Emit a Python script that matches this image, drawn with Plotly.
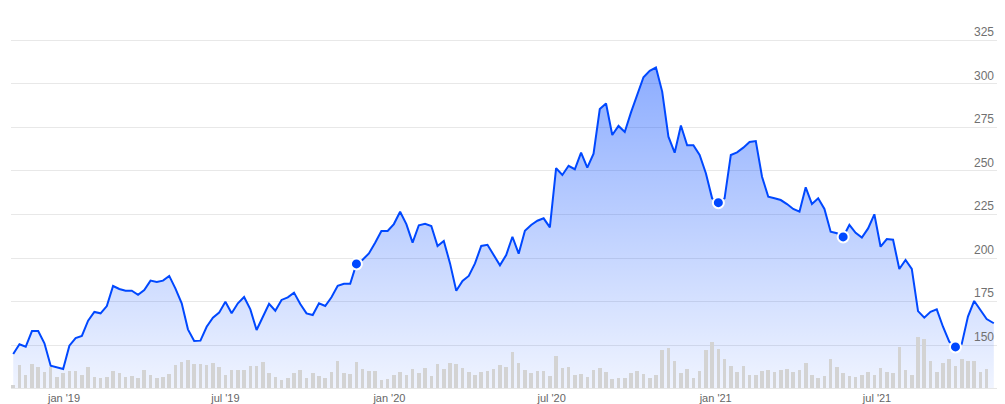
import pandas as pd
import plotly.graph_objects as go

# ---------------- data ----------------
start_date = "2018-11-05"          # first weekly observation
last_date = "2021-11-09"           # last (partial week) price point

price = [
    144.8, 150.4, 149.0, 158.0, 158.0, 151.0, 138.1, 137.2, 136.2, 149.6,
    154.0, 155.2, 164.0, 169.0, 168.2, 172.4, 183.9, 182.2, 181.2, 181.2,
    178.9, 181.6, 187.0, 186.2, 187.0, 189.7, 182.4, 174.0, 159.0, 152.3,
    152.5, 160.5, 165.7, 168.6, 174.9, 168.2, 174.0, 177.6, 170.5, 158.6,
    165.9, 173.7, 169.7, 175.9, 177.4, 180.1, 173.6, 168.2, 167.2, 174.0,
    172.4, 177.4, 184.0, 185.2, 185.2, 196.6, 199.0, 202.6, 208.8, 215.5,
    215.5, 219.5, 226.6, 219.5, 208.8, 218.8, 219.7, 218.4, 206.9, 209.8,
    196.9, 181.2, 186.8, 189.7, 196.9, 206.9, 207.6, 201.7, 195.8, 201.7,
    212.2, 202.5, 215.7, 219.0, 221.4, 222.8, 217.6, 251.6, 247.7, 253.0,
    251.0, 260.5, 251.9, 259.9, 285.6, 288.8, 270.7, 275.9, 272.4, 283.7,
    294.1, 303.9, 307.5, 309.4, 295.6, 269.7, 260.5, 276.1, 264.8, 264.8,
    259.2, 248.7, 234.3, 231.8, 234.3, 259.2, 260.7, 263.4, 266.7, 267.2,
    246.7, 235.2, 234.3, 233.3, 231.0, 228.2, 226.6, 240.6, 231.0, 234.3,
    228.2, 215.1, 214.2, 212.1, 219.0, 214.5, 211.7, 217.0, 225.1, 206.5,
    210.9, 210.5, 193.7, 198.9, 193.7, 169.5, 165.7, 169.1, 170.5, 160.5,
    151.9, 148.9, 150.5, 166.3, 175.3, 170.1, 164.9, 162.5,
]

# weekly volume (units of 100k shares)
volume = [
    3, 23, 13, 24, 21, 16, 21, 11, 15, 17, 17, 13, 21, 11, 10, 11, 17, 15, 11, 12,
    10, 18, 13, 10, 11, 14, 23, 26, 28, 24, 24, 23, 25, 21, 13, 18, 18, 18, 22, 22,
    26, 15, 11, 8, 10, 15, 18, 10, 15, 12, 10, 16, 27, 15, 14, 26, 19, 17, 17, 8,
    9, 13, 16, 13, 19, 15, 20, 12, 24, 19, 25, 24, 20, 16, 13, 16, 17, 19, 23, 21,
    36, 25, 18, 15, 17, 17, 12, 32, 20, 21, 13, 14, 11, 18, 20, 16, 9, 10, 10, 15,
    17, 14, 10, 13, 38, 40, 27, 15, 19, 10, 17, 38, 46, 39, 29, 22, 16, 22, 13, 13,
    17, 18, 16, 18, 19, 16, 18, 25, 13, 10, 12, 29, 21, 15, 12, 11, 13, 16, 13, 20,
    16, 15, 41, 18, 13, 51, 49, 27, 16, 25, 29, 22, 29, 27, 27, 16, 19,
]

marker_idx = [55, 113, 133, 151]

tick_dates = ["2019-01-01", "2019-07-01", "2020-01-01", "2020-07-01", "2021-01-01", "2021-07-01"]
tick_text = ["jan '19", "jul '19", "jan '20", "jul '20", "jan '21", "jul '21"]
y_ticks = [150, 175, 200, 225, 250, 275, 300, 325]

# ---------------- build ----------------
week_dates = list(pd.date_range(start_date, periods=len(volume), freq="7D"))
price_dates = week_dates + [pd.Timestamp(last_date)]

BLUE = "#0048ff"

fig = go.Figure()

fig.add_trace(go.Scatter(
    x=price_dates, y=price, mode="lines",
    line=dict(color=BLUE, width=2),
    fill="tozeroy",
    fillgradient=dict(
        type="vertical", start=125.3, stop=309.5,
        colorscale=[[0, "rgba(0,72,255,0.06)"], [1, "rgba(0,72,255,0.45)"]],
    ),
    hoverinfo="skip", showlegend=False,
))

fig.add_trace(go.Scatter(
    x=[price_dates[i] for i in marker_idx], y=[price[i] for i in marker_idx],
    mode="markers",
    marker=dict(color=BLUE, size=11, line=dict(color="white", width=2)),
    hoverinfo="skip", showlegend=False,
))

fig.add_trace(go.Bar(
    x=week_dates, y=volume, yaxis="y2",
    marker=dict(color="#d3d3d3", line=dict(width=0)),
    width=4 * 86400000,
    hoverinfo="skip", showlegend=False,
))

fig.update_layout(
    width=1005, height=404,
    margin=dict(l=11, r=8, t=10, b=16, autoexpand=False),
    paper_bgcolor="white", plot_bgcolor="white",
    font=dict(family="Liberation Sans, Arial, sans-serif", size=11, color="#6e6e6e"),
    xaxis=dict(
        type="date", automargin=False,
        range=["2018-11-02 12:00", "2021-11-12 14:00"],
        tickvals=tick_dates, ticktext=tick_text,
        showgrid=False, zeroline=False,
        showline=True, linecolor="#e6e6e6", linewidth=1,
        ticks="", tickfont=dict(size=11, color="#666666"),
    ),
    yaxis=dict(
        side="right", range=[125.3, 342.5], automargin=False,
        tickvals=y_ticks, ticklabelposition="inside top",
        showgrid=True, gridcolor="#e8e8e8", gridwidth=1,
        zeroline=False, showline=False, ticks="",
        tickfont=dict(size=12, color="#707070"),
    ),
    yaxis2=dict(
        overlaying="y", range=[0, 378], visible=False,
        showgrid=False, zeroline=False,
    ),
    bargap=0,
)

fig.write_html("out.html", config={"displayModeBar": False},
               post_script="document.body.style.margin='0';")
